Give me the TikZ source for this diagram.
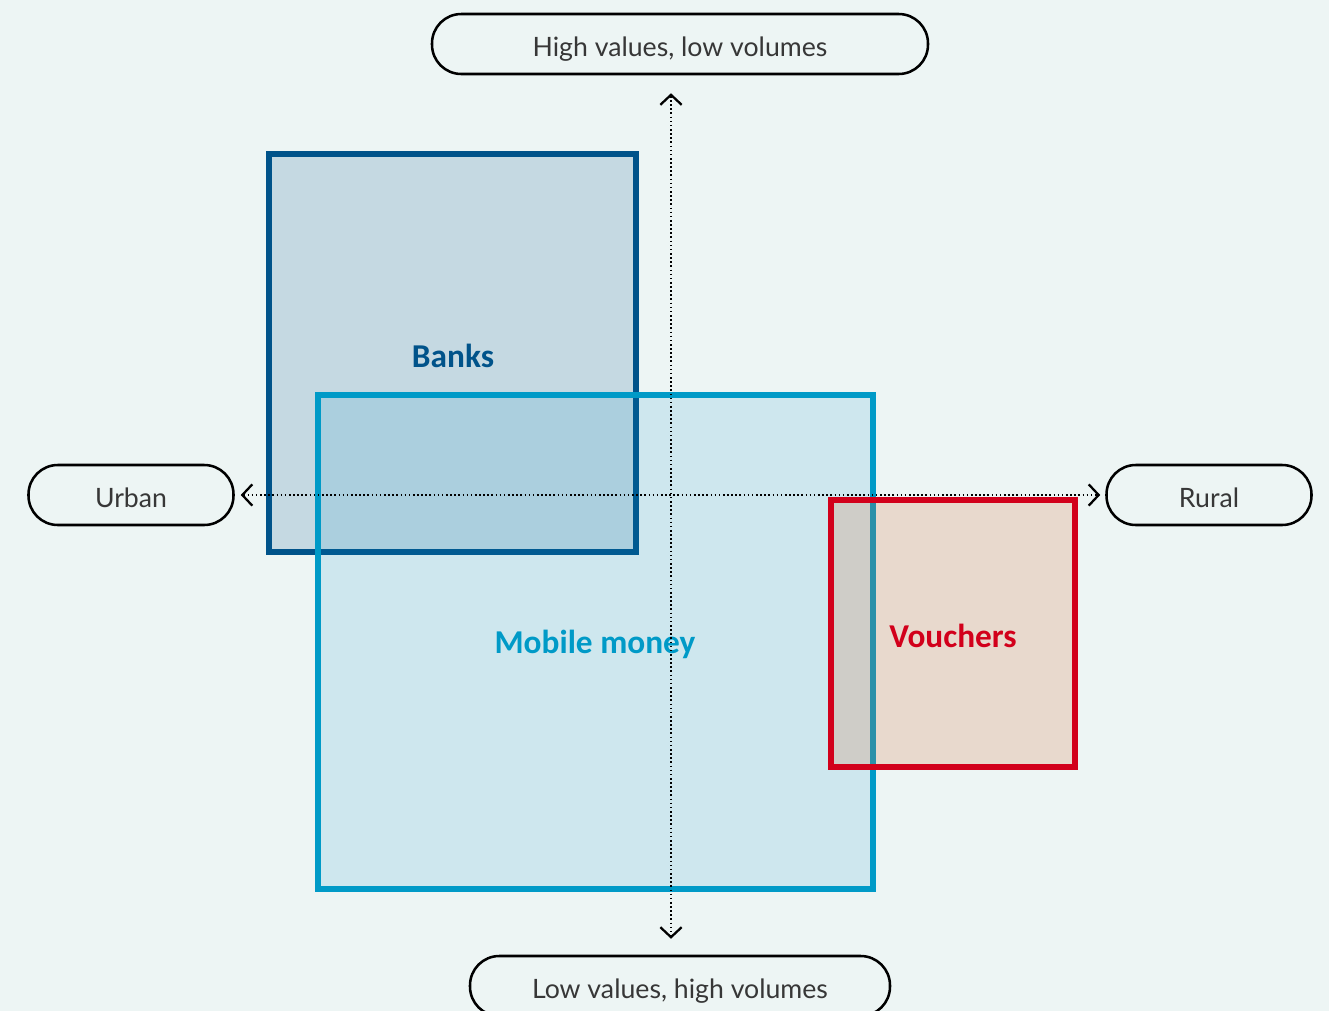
\documentclass[tikz,border=0pt]{standalone}
\usepackage{fontspec}
\setmainfont{Lato}
\newfontfamily\lblfont{Carlito}
\usetikzlibrary{arrows.meta}
\definecolor{bgc}{RGB}{237,245,244}
\definecolor{txtc}{RGB}{55,55,55}
\definecolor{bankc}{RGB}{0,83,138}
\definecolor{mobc}{RGB}{0,154,199}
\definecolor{mfill}{RGB}{0,140,199}
\definecolor{vouc}{RGB}{210,0,27}
\definecolor{vfill}{RGB}{212,105,49}
\begin{document}
\begin{tikzpicture}[x=0.75pt,y=-0.75pt,
  pill/.style={draw=black, line width=1.9pt, rounded corners=22pt, fill=bgc,
    minimum height=45pt, inner sep=0pt, text height=18pt, text depth=0pt,
    text=txtc, font=\fontsize{20}{24}\selectfont},
  axis/.style={line width=1.6pt, dash pattern=on 1.2pt off 1.9pt,
    {Straight Barb[length=7.5pt,width=16pt,line width=1.7pt]}-{Straight Barb[length=7.5pt,width=16pt,line width=1.7pt]}},
  boxlbl/.style={font=\lblfont\bfseries\fontsize{25}{30}\selectfont, inner sep=0pt},
  region/.style={line width=3.8pt}
]
\fill[bgc] (0,0) rectangle (1329,1011);
\useasboundingbox (0,0) rectangle (1329,1011);

% regions
\draw[region, draw=bankc, fill=bankc, fill opacity=0.17, draw opacity=1] (269,154) rectangle (636,552);
\draw[region, draw=mobc, fill=mfill, fill opacity=0.13, draw opacity=1] (318,395) rectangle (873,889);
\draw[region, draw=vouc, fill=vfill, fill opacity=0.2, draw opacity=1] (831,500) rectangle (1075,767);

\node[boxlbl, text=bankc] (banks) at (453,356) {Banks};
\node[boxlbl, text=mobc] (mobile) at (595,644) {Mobile money};
\node[boxlbl, text=vouc] (vouchers) at (953,636) {Vouchers};

% pills
\node[pill, minimum width=372pt] (top) at (680,44) {High values, low volumes};
\node[pill, minimum width=315pt] (bot) at (680,986) {Low values, high volumes};
\node[pill, minimum width=153.75pt] (urban) at (131,495) {Urban};
\node[pill, minimum width=153.75pt] (rural) at (1209,495) {Rural};

\coordinate (vx) at (671,500);
\draw[axis, shorten <=13.5pt, shorten >=12pt] (top.south -| vx) -- (bot.north -| vx);
\draw[axis, shorten <=4.5pt, shorten >=3.75pt] (urban.east) -- (rural.west);
\end{tikzpicture}
\end{document}
